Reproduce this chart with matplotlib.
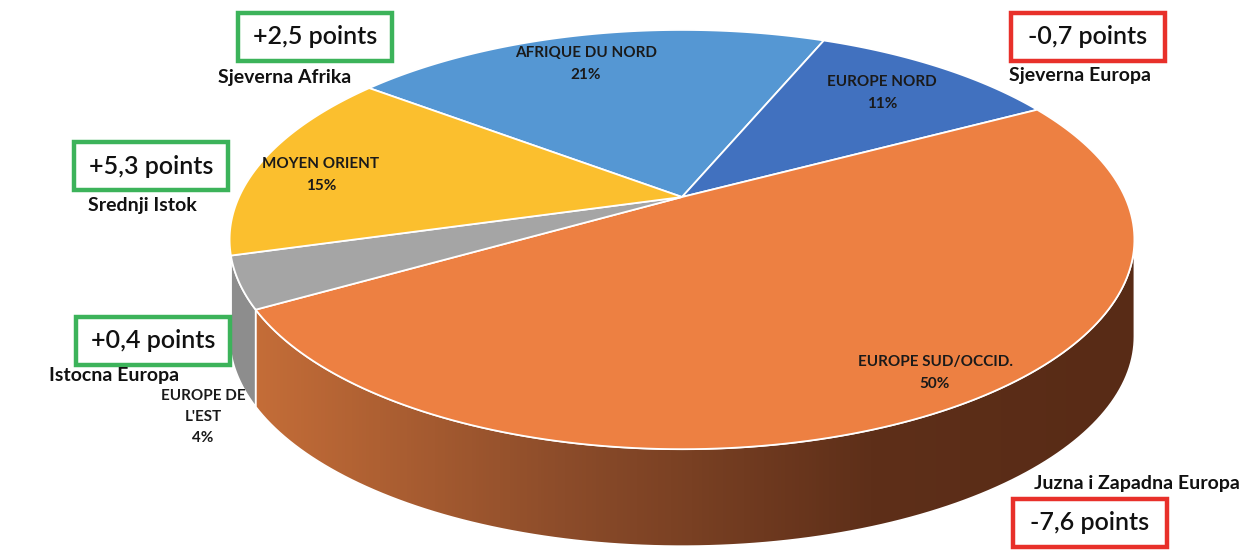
import numpy as np
import matplotlib
matplotlib.use("Agg")
import matplotlib.pyplot as plt
from matplotlib.patches import Polygon, Rectangle
from matplotlib.colors import LinearSegmentedColormap

# slice data, clockwise from the start angle
regions = ["AFRIQUE DU NORD", "EUROPE NORD", "EUROPE SUD/OCCID.", "EUROPE DE\nL'EST", "MOYEN ORIENT"]
shares = [21, 11, 50, 4, 15]
top_colors = ["#5597d3", "#4171bf", "#ed8042", "#a5a5a5", "#fbbf2e"]
side_colors = ["#3f77aa", "#2f5490", None, "#8d8d8d", "#c99a1c"]

# change annotations
changes = ["+2,5 points", "-0,7 points", "-7,6 points", "+0,4 points", "+5,3 points"]
names_hr = ["Sjeverna Afrika", "Sjeverna Europa", "Juzna i Zapadna Europa",
            "Istocna Europa", "Srednji Istok"]

# 3D pie geometry (pixels)
CX, CY = 682, 197
SX, SY = 443, 201
PERSP = 0.203
DEPTH = 97
START = 307.5

GREEN = "#3cb35a"
RED = "#e8302a"
FONT = ["Lato", "DejaVu Sans"]


def proj(phi, r=1.0):
    phi = np.radians(phi)
    X, Y = r * np.sin(phi), r * np.cos(phi)
    w = 1 + PERSP * Y
    return CX + SX * X / w, CY - SY * Y / w


fig = plt.figure(figsize=(12.4, 5.5), dpi=100)
ax = fig.add_axes([0, 0, 1, 1])
ax.set_xlim(0, 1240)
ax.set_ylim(550, 0)
ax.axis("off")

total = sum(shares)
bounds = START + 360 * np.concatenate([[0], np.cumsum(shares)]) / total
vis_lo = 90 + np.degrees(np.arcsin(PERSP))
vis_hi = 270 - np.degrees(np.arcsin(PERSP))

# sides
for i in range(len(shares)):
    a0, a1 = bounds[i] % 360, bounds[i + 1] % 360
    if a1 < a0:
        a1 += 360
    lo, hi = max(a0, vis_lo), min(a1, vis_hi)
    if hi <= lo:
        continue
    ph = np.linspace(lo, hi, 120)
    xs, ys = proj(ph)
    pts = np.column_stack([np.r_[xs, xs[::-1]], np.r_[ys, ys[::-1] + DEPTH]])
    if side_colors[i] is None:
        poly = Polygon(pts, closed=True, facecolor="none", edgecolor="white", lw=1.2, zorder=2)
        ax.add_patch(poly)
        cmap = LinearSegmentedColormap.from_list(
            "side", [(0, "#c46d38"), (0.35, "#8c4c2a"), (0.7, "#5e2f19"), (1, "#582b16")])
        grad = np.linspace(0, 1, 256)[None, :]
        im = ax.imshow(grad, cmap=cmap, aspect="auto",
                       extent=[xs.min(), xs.max(), ys.max() + DEPTH, ys.min()], zorder=1)
        im.set_clip_path(poly)
    else:
        ax.add_patch(Polygon(pts, closed=True, facecolor=side_colors[i],
                             edgecolor="white", lw=1.2, zorder=2))

# top faces
for i in range(len(shares)):
    ph = np.linspace(bounds[i], bounds[i + 1], 150)
    xs, ys = proj(ph)
    pts = np.column_stack([np.r_[CX, xs], np.r_[CY, ys]])
    ax.add_patch(Polygon(pts, closed=True, facecolor=top_colors[i],
                         edgecolor="white", lw=1.3, zorder=3))

# in-slice labels
label_pos = [(586, 64), (882, 93), (935, 373), (203, 417), (321, 175)]
for name, v, (x, y) in zip(regions, shares, label_pos):
    ax.text(x, y, f"{name}\n{v}%", ha="center", va="center", fontsize=11,
            fontweight="bold", family=FONT, color="#1a1a1a", linespacing=1.65, zorder=5)

# change boxes and Croatian names
box_pos = [(315, 37), (1088, 37), (1090, 523), (153, 341), (151, 166)]
name_pos = [(285, 77), (1080, 76), (1137, 483), (114, 376), (142, 205)]
for ch, nm, (bx, by), (nx, ny) in zip(changes, names_hr, box_pos, name_pos):
    col = GREEN if ch.startswith("+") else RED
    ax.add_patch(Rectangle((bx - 77, by - 24), 154, 48, facecolor="white",
                           edgecolor=col, lw=3.2, zorder=6))
    ax.text(bx, by, ch, ha="center", va="center", fontsize=18, fontweight="semibold",
            family=FONT, color="#111111", zorder=7)
    ax.text(nx, ny, nm, ha="center", va="center", fontsize=14, fontweight="bold",
            family=FONT, color="#111111", zorder=7)

fig.savefig("out.png", dpi=100)
